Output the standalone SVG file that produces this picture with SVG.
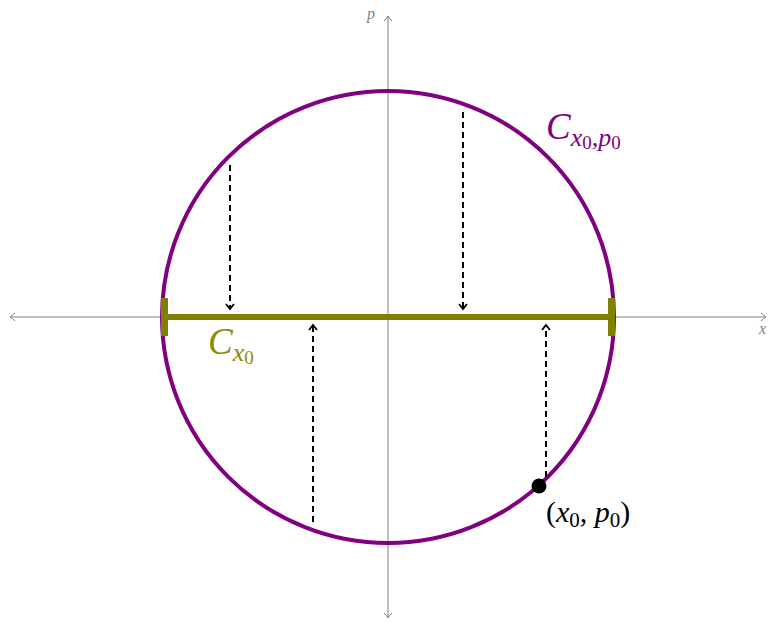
<svg xmlns="http://www.w3.org/2000/svg" width="769" height="622" viewBox="0 0 769 622">
<style>
.axis{stroke:#808080;stroke-width:1;fill:none}
.dash{stroke:#000;stroke-width:2;stroke-dasharray:6,4;fill:none}
.lbl{font-family:"Liberation Serif",serif;font-style:italic}
.sub{font-family:"Liberation Serif",serif}
</style>
<defs>
<marker id="ga" viewBox="-6 -5 8 10" markerWidth="8" markerHeight="10" refX="0" refY="0" orient="auto" markerUnits="userSpaceOnUse">
<path d="M-5,-4 Q-2,-1 0,0 Q-2,1 -5,4" fill="none" stroke="#808080" stroke-width="1"/>
</marker>
<marker id="ba" viewBox="-6 -5 8 10" markerWidth="8" markerHeight="10" refX="0" refY="0" orient="auto" markerUnits="userSpaceOnUse">
<path d="M-5,-4 L0,0 L-5,4" fill="none" stroke="#000" stroke-width="1.8"/>
</marker>
</defs>
<g id="axes">
<line class="axis" x1="388" y1="317" x2="766" y2="317" marker-end="url(#ga)"/>
<line class="axis" x1="388" y1="317" x2="10" y2="317" marker-end="url(#ga)"/>
<line class="axis" x1="388" y1="317" x2="388" y2="16" marker-end="url(#ga)"/>
<line class="axis" x1="388" y1="317" x2="388" y2="618" marker-end="url(#ga)"/>
<text x="367" y="19" class="lbl" font-size="16" fill="#808080">p</text>
<text x="759" y="334" class="lbl" font-size="16" fill="#808080">x</text>
</g>
<g id="circle">
<circle cx="388" cy="317" r="226" fill="none" stroke="#800080" stroke-width="4"/>
<text x="546" y="139" fill="#800080"><tspan class="lbl" font-size="37">C</tspan><tspan class="lbl" font-size="26" dy="7">x</tspan><tspan class="sub" font-size="19" dy="3">0</tspan><tspan class="lbl" font-size="26" dy="-3">,p</tspan><tspan class="sub" font-size="19" dy="3">0</tspan></text>
</g>
<g id="segment">
<line x1="164" y1="317" x2="612" y2="317" stroke="#808000" stroke-width="6"/>
<line x1="164.5" y1="298" x2="164.5" y2="336" stroke="#808000" stroke-width="7"/>
<line x1="611.5" y1="298" x2="611.5" y2="336" stroke="#808000" stroke-width="7"/>
<text x="208" y="354" fill="#8c8c00"><tspan class="lbl" font-size="37">C</tspan><tspan class="lbl" font-size="26" dy="7">x</tspan><tspan class="sub" font-size="19" dy="3">0</tspan></text>
</g>
<g id="point">
<circle cx="539" cy="486" r="7.5" fill="#000"/>
<text x="546" y="522" font-size="30"><tspan class="sub">(</tspan><tspan class="lbl">x</tspan><tspan class="sub" font-size="21" dy="5">0</tspan><tspan class="sub" dy="-5">, </tspan><tspan class="lbl">p</tspan><tspan class="sub" font-size="21" dy="5">0</tspan><tspan class="sub" dy="-5">)</tspan></text>
</g>
<g id="connectors">
<line class="dash" x1="230" y1="165" x2="230" y2="309" marker-end="url(#ba)"/>
<line class="dash" x1="463" y1="112" x2="463" y2="309" marker-end="url(#ba)"/>
<line class="dash" x1="313" y1="522" x2="313" y2="325" marker-end="url(#ba)"/>
<line class="dash" x1="546" y1="477" x2="546" y2="325" marker-end="url(#ba)"/>
</g>
</svg>
